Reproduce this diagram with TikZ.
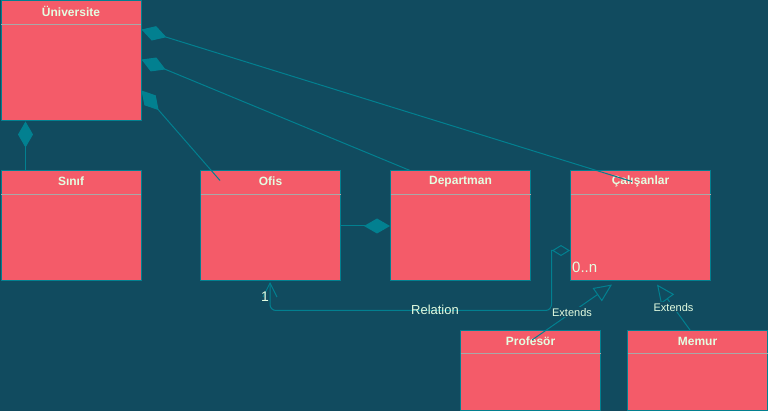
\documentclass[tikz,border=0pt]{standalone}
\usepackage{fontspec}
\setmainfont{Liberation Sans}
\usetikzlibrary{arrows.meta,positioning,calc}
\definecolor{bgteal}{HTML}{114B5F}
\definecolor{boxred}{HTML}{F45B69}
\definecolor{edgeteal}{HTML}{028090}
\definecolor{textcream}{HTML}{E4FDE1}
\definecolor{divgray}{HTML}{A8A8A8}
\begin{document}
\begin{tikzpicture}
[x=1pt,y=-1pt,
classbox/.style={rectangle,draw=edgeteal,fill=boxred,line width=1pt,anchor=north west,minimum width=140pt,minimum height=110pt,inner sep=0pt},
classtitle/.style={text=textcream,font=\bfseries\fontsize{12}{14}\selectfont,inner sep=0pt},
divider/.style={draw=divgray,line width=1pt},
link/.style={draw=edgeteal,line width=1pt},
comp/.style={link,{Diamond[fill=edgeteal,length=26pt,width=15pt]}-},
aggr/.style={link,{Diamond[open,length=18pt,width=11pt]}-{Straight Barb[length=14pt,width=14pt]}},
extends/.style={link,-{Triangle[open,length=18pt,width=16pt]}},
mult/.style={text=textcream,font=\fontsize{15}{17}\selectfont,inner sep=0pt},
linklabel/.style={text=textcream,font=\fontsize{11}{13}\selectfont,fill=bgteal,inner sep=1pt}]
\fill[bgteal] (0,0) rectangle (768,411);
\useasboundingbox (0,0) rectangle (768,411);
% classes
\node[classbox,minimum height=120pt] (uni) at (0.5,0.5) {};
\node[classbox] (sinif) at (0.5,170.5) {};
\node[classbox] (ofis) at (200,170.5) {};
\node[classbox] (dep) at (390,170.5) {};
\node[classbox] (cal) at (570,170.5) {};
\node[classbox,minimum height=80pt] (prof) at (460,330) {};
\node[classbox,minimum height=80pt] (memur) at (627,330) {};
\foreach \n/\t in {uni/Üniversite,sinif/Sınıf,ofis/Ofis,dep/Departman,cal/Çalışanlar,prof/Profesör,memur/Memur}{
  \node[classtitle] (\n-title) at ($(\n.north)+(0,11)$) {\t};
  \draw[divider] ($(\n.north west)+(0.5,24)$) -- ($(\n.north east)+(-0.5,24)$);
}
% composition
\draw[comp] ($(uni.south west)+(25,0)$) -- ($(sinif.north west)+(25,0)$);
\draw[comp] ($(uni.north east)+(0,90)$) -- ($(ofis.north west)+(20,10)$);
\draw[comp] ($(uni.north east)+(0,59)$) -- ($(dep.north west)+(20,0)$);
\draw[comp] ($(uni.north east)+(0,29)$) -- ($(cal.north west)+(62,11)$);
\draw[comp] (dep.west) -- (ofis.east);
% relation
\draw[aggr] ($(cal.north west)+(0,80)$) -- ++(-18.5,0) [rounded corners=6pt] -- ++(0,60) -| ($(ofis.south west)+(70,0.5)$);
\node[mult,anchor=base west] (many) at ($(cal.south west)+(2,-9)$) {0..n};
\node[mult,anchor=base,font=\fontsize{14}{16}\selectfont] (one) at ($(ofis.south west)+(65,20)$) {1};
\node[mult,anchor=base,font=\fontsize{13}{15}\selectfont] (rel) at (435,315) {Relation};
% inheritance
\draw[extends] ($(prof.north west)+(72,10)$) -- node[linklabel] {Extends} ($(cal.south west)+(42,3)$);
\draw[extends] ($(memur.north west)+(63,0)$) -- node[linklabel] {Extends} ($(cal.south west)+(87,3)$);
\end{tikzpicture}
\end{document}
